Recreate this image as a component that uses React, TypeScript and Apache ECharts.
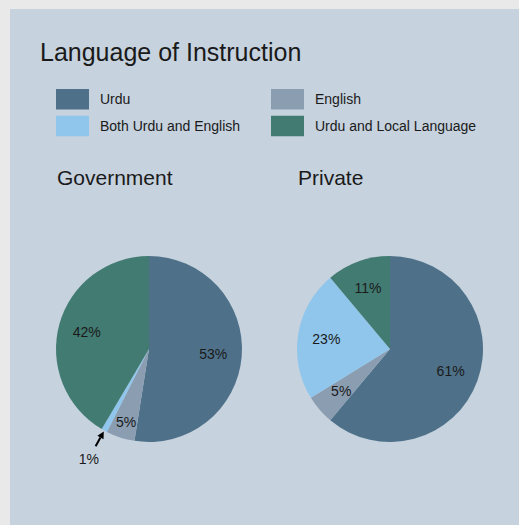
import React, { useEffect, useRef } from "react";
import * as echarts from "echarts";

const categories = ["Urdu", "English", "Both Urdu and English", "Urdu and Local Language"];
const governmentValues = [52.6, 5.0, 1.0, 41.6];
const privateValues = [61.1, 5.1, 22.7, 11.1];
const groupTitles = ["Government", "Private"];
const chartTitle = "Language of Instruction";
const colors = ["#4e7189", "#8a9db1", "#90c6eb", "#427b72"];

const FONT = "'Liberation Sans', Arial, sans-serif";
const TXT = "#1a1a1a";

export default function App() {
  const ref = useRef<HTMLDivElement>(null);
  useEffect(() => {
    if (!ref.current) return;
    const chart = echarts.init(ref.current, undefined, { renderer: "svg" });
    const R = 93;
    const centers: [number, number][] = [
      [139, 340],
      [380, 340],
    ];
    const fmt = (p: any) => `${Math.round(p.value)}%`;

    const mainSeries = (vals: number[], idx: number) => ({
      type: "pie",
      name: groupTitles[idx],
      center: centers[idx],
      radius: [0, R],
      startAngle: 90,
      clockwise: true,
      silent: true,
      label: { show: false },
      labelLine: { show: false },
      data: vals.map((v, i) => ({ name: categories[i], value: v, itemStyle: { color: colors[i] } })),
    });

    const labelSeries = (vals: number[], idx: number) => ({
      type: "pie",
      name: groupTitles[idx] + " labels",
      center: centers[idx],
      radius: [30, R],
      startAngle: 90,
      clockwise: true,
      silent: true,
      avoidLabelOverlap: false,
      itemStyle: { color: "rgba(0,0,0,0)" },
      label: {
        show: true,
        position: "inside",
        formatter: fmt,
        fontSize: 14,
        fontFamily: FONT,
        color: TXT,
      },
      labelLine: { show: false },
      data: vals.map((v, i) => {
        const item: any = { name: categories[i], value: v, itemStyle: { color: "rgba(0,0,0,0)" } };
        if (idx === 0 && i === 2) item.label = { show: false };
        if (idx === 0 && i === 1) item.label = { offset: [-3, 12] };
        return item;
      }),
    });

    // annotation for the tiny government slice (computed from the data)
    const total = governmentValues.reduce((a, b) => a + b, 0);
    const before = governmentValues[0] + governmentValues[1];
    const frac = (before + governmentValues[2] / 2) / total;
    const th = frac * Math.PI * 2;
    const dx = Math.sin(th);
    const dy = -Math.cos(th);
    const [cx, cy] = centers[0];
    const tip = [cx + dx * (R + 1), cy + dy * (R + 1)];
    const tail = [cx + dx * (R + 18), cy + dy * (R + 18)];
    const lab = [cx + dx * (R + 32), cy + dy * (R + 32)];
    const ah = 7;
    const aw = 3.5;
    const base = [tip[0] + dx * ah, tip[1] + dy * ah];
    const px = -dy;
    const py = dx;

    chart.setOption({
      animation: false,
      backgroundColor: "#c6d2de",
      title: [
        {
          text: chartTitle,
          left: 30,
          top: 30,
          padding: 0,
          textStyle: { fontSize: 25, fontWeight: "normal", color: TXT, fontFamily: FONT },
        },
        {
          text: groupTitles[0],
          left: 47,
          top: 158,
          padding: 0,
          textStyle: { fontSize: 21, fontWeight: "normal", color: TXT, fontFamily: FONT },
        },
        {
          text: groupTitles[1],
          left: 288,
          top: 158,
          padding: 0,
          textStyle: { fontSize: 21, fontWeight: "normal", color: TXT, fontFamily: FONT },
        },
      ],
      legend: [
        {
          data: [categories[0], categories[2]],
          orient: "vertical",
          left: 46,
          top: 80,
          padding: 0,
          icon: "rect",
          itemWidth: 33,
          itemHeight: 20.5,
          itemGap: 6.2,
          selectedMode: false,
          textStyle: { fontSize: 14, color: TXT, fontFamily: FONT, padding: [0, 0, 0, 6] },
        },
        {
          data: [categories[1], categories[3]],
          orient: "vertical",
          left: 261,
          top: 80,
          padding: 0,
          icon: "rect",
          itemWidth: 33,
          itemHeight: 20.5,
          itemGap: 6.2,
          selectedMode: false,
          textStyle: { fontSize: 14, color: TXT, fontFamily: FONT, padding: [0, 0, 0, 6] },
        },
      ],
      graphic: [
        {
          type: "line",
          shape: { x1: tail[0], y1: tail[1], x2: base[0], y2: base[1] },
          style: { stroke: "#000", lineWidth: 2 },
          z: 100,
        },
        {
          type: "polygon",
          shape: {
            points: [
              tip,
              [base[0] + px * aw, base[1] + py * aw],
              [base[0] - px * aw, base[1] - py * aw],
            ],
          },
          style: { fill: "#000" },
          z: 100,
        },
        {
          type: "text",
          x: lab[0],
          y: lab[1],
          style: {
            text: `${Math.round(governmentValues[2])}%`,
            fontSize: 14,
            fontFamily: FONT,
            fill: TXT,
            align: "center",
            verticalAlign: "middle",
          },
          z: 100,
        },
      ],
      series: [
        mainSeries(governmentValues, 0),
        mainSeries(privateValues, 1),
        labelSeries(governmentValues, 0),
        labelSeries(privateValues, 1),
      ],
    });
    return () => chart.dispose();
  }, []);

  return (
    <div
      style={{
        position: "fixed",
        left: 0,
        top: 0,
        width: 519,
        height: 525,
        background: "#e9e9e9",
        overflow: "hidden",
      }}
    >
      <div
        ref={ref}
        style={{ position: "absolute", left: 10, top: 9, width: 509, height: 516 }}
      />
    </div>
  );
}
